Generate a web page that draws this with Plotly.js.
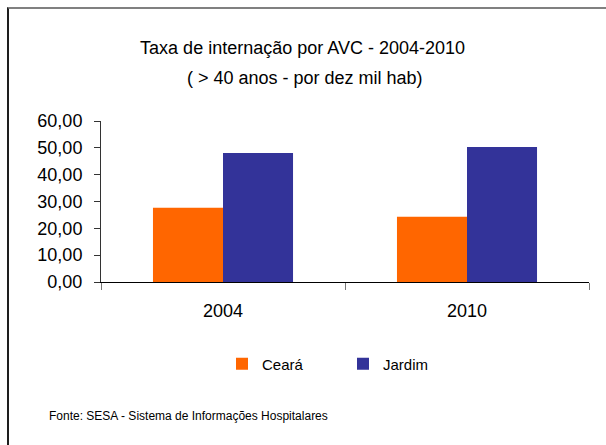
<!DOCTYPE html>
<html>
<head>
<meta charset="utf-8">
<script src="https://cdn.plot.ly/plotly-3.0.1.min.js"></script>
<style>
  html, body { margin: 0; padding: 0; background: #fff; }
  #wrap { position: relative; width: 606px; height: 445px; }
  #chart { width: 606px; height: 445px; }
  #frame { position: absolute; left: 7px; top: 7px; right: 0; bottom: 0;
           border-top: 2px solid #808080; border-left: 2px solid #1e1e1e;
           pointer-events: none; }
</style>
</head>
<body>
<div id="wrap"><div id="chart"></div><div id="frame"></div></div>
<script>
const categories = ['2004', '2010'];
const seriesNames = ['Ceará', 'Jardim'];
const cearaValues = [27.7, 24.3];
const jardimValues = [48.1, 50.3];
const yTickVals = [0, 10, 20, 30, 40, 50, 60];

const FONT = 'Liberation Sans, Arial, sans-serif';

const traces = [
  { type: 'bar', name: seriesNames[0], x: categories, y: cearaValues,
    marker: { color: '#FF6600', line: { width: 0 } }, hoverinfo: 'y' },
  { type: 'bar', name: seriesNames[1], x: categories, y: jardimValues,
    marker: { color: '#333399', line: { width: 0 } }, hoverinfo: 'y' }
];

const layout = {
  width: 606, height: 445,
  margin: { l: 101, r: 17, t: 121, b: 162.5, pad: 0 },
  paper_bgcolor: '#fff', plot_bgcolor: '#fff',
  separators: ',.',
  font: { family: FONT, color: '#000', size: 18 },
  barmode: 'group', bargap: 0.426, bargroupgap: 0,
  title: {
    text: 'Taxa de internação por AVC - 2004-2010',
    font: { family: FONT, size: 18, color: '#000' },
    xref: 'paper', x: 0.413, xanchor: 'center',
    yref: 'container', y: 1 - 48 / 445, yanchor: 'middle'
  },
  annotations: [
    { text: '( > 40 anos - por dez mil hab)', showarrow: false,
      xref: 'paper', yref: 'paper', x: 0.419, y: (282.5 - 78) / 161.5,
      xanchor: 'center', yanchor: 'middle',
      font: { family: FONT, size: 18, color: '#000' } },
    { text: 'Fonte: SESA - Sistema de Informações Hospitalares', showarrow: false,
      xref: 'paper', yref: 'paper', x: (47 - 101) / 488, y: (282.5 - 417) / 161.5,
      xanchor: 'left', yanchor: 'middle',
      font: { family: FONT, size: 12, color: '#000' } }
  ],
  xaxis: {
    type: 'category', range: [-0.5, 1.5],
    showgrid: false, zeroline: false,
    showline: true, linecolor: '#000', linewidth: 1,
    ticks: 'outside', tickson: 'boundaries', ticklen: 7, tickwidth: 1, tickcolor: '#777',
    tickfont: { family: FONT, size: 18, color: '#000' },
    ticklabelstandoff: 12,
    fixedrange: true
  },
  xaxis2: {
    overlaying: 'x', anchor: 'y', range: [-0.5, 1.5],
    tickvals: [-0.5, 0.5, 1.5], showticklabels: false,
    ticks: 'inside', ticklen: 7, tickwidth: 1, tickcolor: '#777',
    showgrid: false, zeroline: false, showline: false, fixedrange: true
  },
  yaxis: {
    range: [0, 60], tickvals: yTickVals, tickformat: '.2f',
    showgrid: false, zeroline: false,
    showline: true, linecolor: '#333', linewidth: 1,
    ticks: 'outside', ticklen: 6, tickwidth: 1, tickcolor: '#333',
    tickfont: { family: FONT, size: 18, color: '#000' },
    ticklabelstandoff: 8,
    fixedrange: true
  },
  yaxis2: {
    overlaying: 'y', anchor: 'x', side: 'left', range: [0, 60],
    tickvals: yTickVals, showticklabels: false,
    ticks: 'inside', ticklen: 6, tickwidth: 1, tickcolor: '#333',
    showgrid: false, zeroline: false, showline: false, fixedrange: true
  },
  showlegend: true,
  legend: {
    orientation: 'h', xref: 'container', yref: 'container',
    x: 222 / 606, xanchor: 'left', y: 1 - 364 / 445, yanchor: 'middle',
    font: { family: FONT, size: 15, color: '#000' },
    bgcolor: 'rgba(0,0,0,0)', borderwidth: 0,
    entrywidth: 76, entrywidthmode: 'pixels',
    traceorder: 'normal'
  }
};

Plotly.newPlot('chart', traces, layout, { displayModeBar: false, staticPlot: true });
</script>
</body>
</html>
